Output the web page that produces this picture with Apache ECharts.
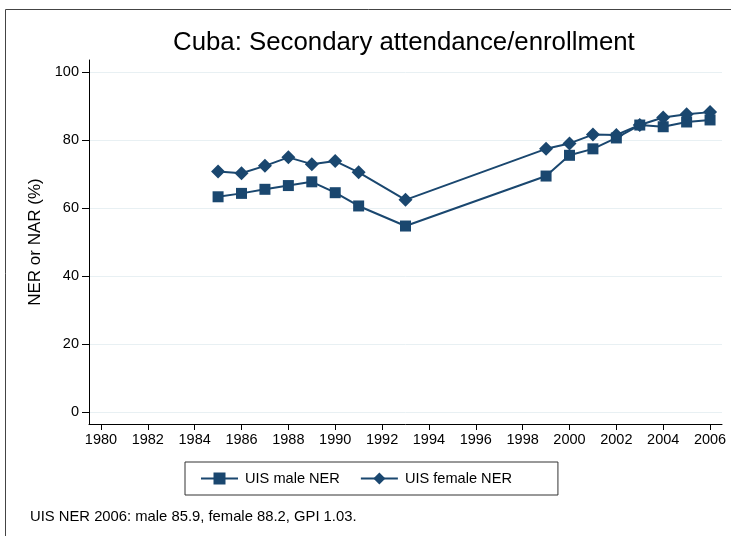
<!DOCTYPE html>
<html>
<head>
<meta charset="utf-8">
<script src="https://cdn.jsdelivr.net/npm/echarts@6/dist/echarts.min.js"></script>
<style>html,body{margin:0;padding:0;background:#fff}#c{width:731px;height:536px}</style>
</head>
<body>
<div id="c"></div>
<script>
const years = [1985,1986,1987,1988,1989,1990,1991,1993,1999,2000,2001,2002,2003,2004,2005,2006];
const maleNER = [63.3,64.3,65.5,66.6,67.7,64.5,60.6,54.7,69.4,75.5,77.4,80.6,84.4,83.9,85.3,85.9];
const femaleNER = [70.7,70.2,72.4,74.9,72.9,73.8,70.5,62.4,77.4,79.0,81.6,81.5,84.4,86.6,87.6,88.2];
const xTicks = [1980,1982,1984,1986,1988,1990,1992,1994,1996,1998,2000,2002,2004,2006];
const yTicks = [0,20,40,60,80,100];
const titleText = 'Cuba: Secondary attendance/enrollment';
const noteText = 'UIS NER 2006: male 85.9, female 88.2, GPI 1.03.';
const seriesNames = ['UIS male NER', 'UIS female NER'];

const FONT = '"Liberation Sans", Arial, Helvetica, sans-serif';
const NAVY = '#1a476f';
const chart = echarts.init(document.getElementById('c'), null, {renderer: 'canvas'});
chart.setOption({
  animation: false,
  backgroundColor: '#fff',
  textStyle: {fontFamily: FONT},
  title: [
    {text: titleText, left: 173, top: 30, padding: 0,
     textStyle: {fontFamily: FONT, fontSize: 25.8, fontWeight: 'normal', color: '#000'}},
    {text: noteText, left: 30, top: 509, padding: 0,
     textStyle: {fontFamily: FONT, fontSize: 14.8, fontWeight: 'normal', color: '#000'}}
  ],
  graphic: [{type: 'rect', shape: {x: 5.5, y: 9.5, width: 2000, height: 2000}, style: {fill: null, stroke: '#444', lineWidth: 1}, silent: true}],
  grid: {left: 89, right: 9, top: 60, bottom: 112, containLabel: false},
  legend: {
    data: seriesNames,
    left: 185, top: 462,
    padding: [9, 46, 9, 15],
    itemGap: 20, itemWidth: 37, itemHeight: 15,
    borderColor: '#333', borderWidth: 1, borderRadius: 0,
    textStyle: {fontFamily: FONT, fontSize: 14.6, color: '#000', padding: [0, 0, 0, 2]}
  },
  xAxis: {
    type: 'value', min: 1979.49, max: 2006.51,
    axisLine: {show: true, onZero: false, lineStyle: {color: '#000', width: 1}},
    axisTick: {show: true, length: 6, customValues: xTicks, lineStyle: {color: '#000'}},
    axisLabel: {customValues: xTicks, fontFamily: FONT, fontSize: 14.5, color: '#000', margin: 8, formatter: v => String(v)},
    splitLine: {show: false}
  },
  yAxis: {
    type: 'value', min: -3.53, max: 103.53,
    name: 'NER or NAR (%)', nameLocation: 'middle', nameRotate: 90, nameGap: 39,
    nameTextStyle: {fontFamily: FONT, fontSize: 17, color: '#000'},
    axisLine: {show: true, onZero: false, lineStyle: {color: '#000', width: 1}},
    axisTick: {show: true, length: 7, customValues: yTicks, lineStyle: {color: '#000'}},
    axisLabel: {customValues: yTicks, fontFamily: FONT, fontSize: 14.5, color: '#000', margin: 10},
    splitLine: {show: true, lineStyle: {color: '#e8f0f3', width: 1}}
  },
  series: [
    {name: seriesNames[0], type: 'line', data: years.map((y, i) => [y, maleNER[i]]),
     symbol: 'rect', symbolSize: 11, showAllSymbol: true,
     lineStyle: {color: NAVY, width: 2}, itemStyle: {color: NAVY}},
    {name: seriesNames[1], type: 'line', data: years.map((y, i) => [y, femaleNER[i]]),
     symbol: 'diamond', symbolSize: 14, showAllSymbol: true,
     lineStyle: {color: NAVY, width: 2}, itemStyle: {color: NAVY}}
  ]
});
</script>
</body>
</html>
